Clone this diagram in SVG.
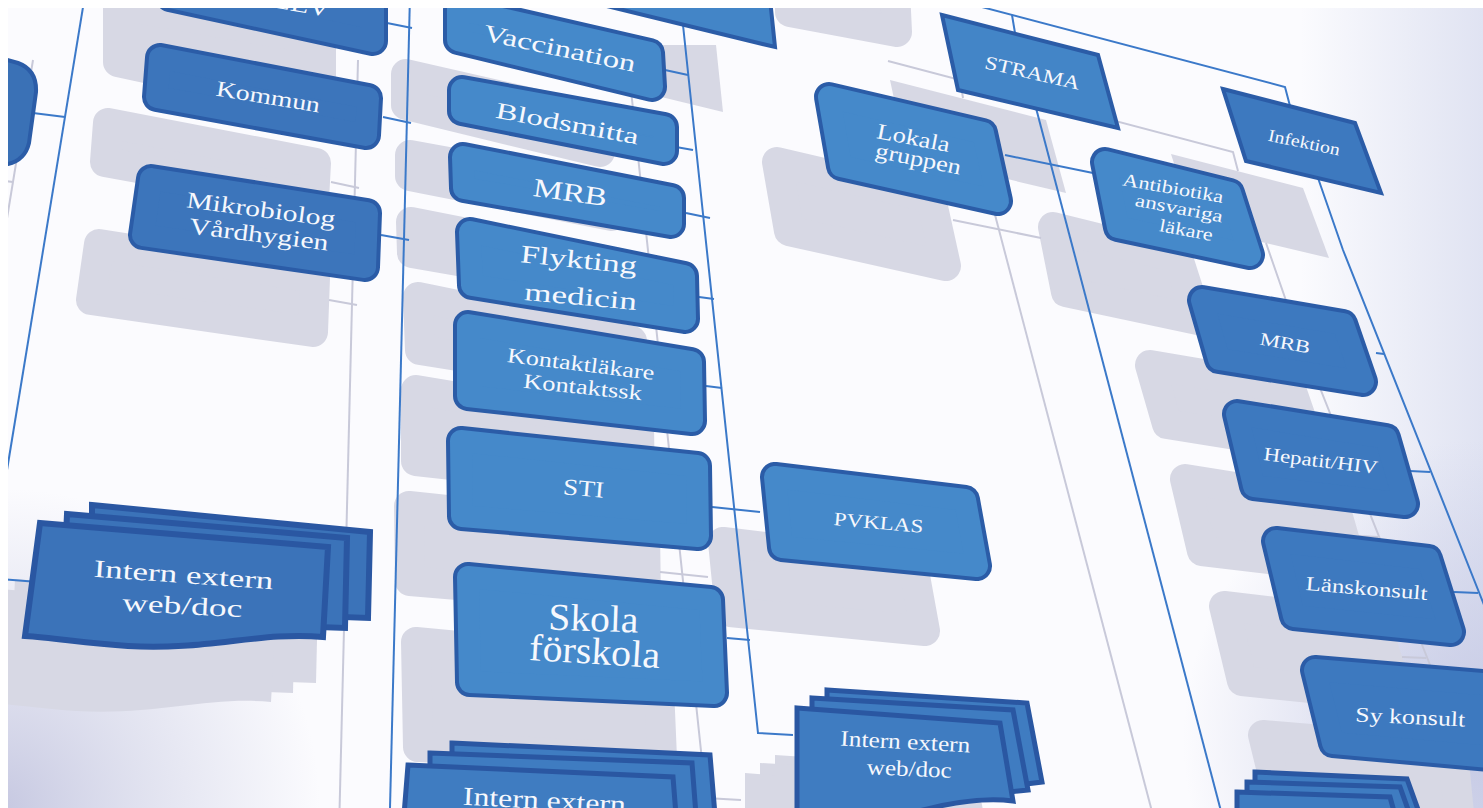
<svg xmlns="http://www.w3.org/2000/svg" xmlns:xlink="http://www.w3.org/1999/xlink" width="1483" height="808" viewBox="0 0 1483 808">
<defs>
<style>
.t{font-family:"Liberation Serif","Times New Roman",serif;fill:#f6f8fd;text-anchor:middle}
.sh{fill:#d7d8e4;stroke:#d7d8e4;stroke-width:30;stroke-linejoin:round}
.shp{fill:#d7d8e4;stroke:none}
.bd{fill:#2b5ca7;stroke:#2b5ca7;stroke-width:30;stroke-linejoin:round}
.fm{fill:#4589ca;stroke:#4589ca;stroke-width:22;stroke-linejoin:round}
.fl{fill:#3c75bb;stroke:#3c75bb;stroke-width:22;stroke-linejoin:round}
.fr{fill:#3d79bf;stroke:#3d79bf;stroke-width:22;stroke-linejoin:round}
.sq{stroke:#2b5ca7;stroke-width:4;stroke-linejoin:miter}
.pl{fill:#3b73b9;stroke:#2a57a2;stroke-width:6;stroke-linejoin:miter}
.pm{fill:#3f7cc1;stroke:#2a57a2;stroke-width:5;stroke-linejoin:miter}
.conn{fill:none;stroke:#3b79c9;stroke-width:2}
.wsh{fill:none;stroke:#c8c9d9;stroke-width:2}
</style>
<radialGradient id="gBL" cx="0" cy="808" r="320" gradientUnits="userSpaceOnUse"><stop offset="0" stop-color="#c6c8e1"/><stop offset="0.5" stop-color="#d3d5e8" stop-opacity="0.6"/><stop offset="1" stop-color="#d3d5e8" stop-opacity="0"/></radialGradient>
<radialGradient id="gR" cx="1483" cy="740" r="300" gradientUnits="userSpaceOnUse"><stop offset="0" stop-color="#c6cae5"/><stop offset="1" stop-color="#c6cae5" stop-opacity="0"/></radialGradient>
<linearGradient id="gRt" x1="1300" y1="0" x2="1483" y2="0" gradientUnits="userSpaceOnUse"><stop offset="0" stop-color="#dfe3f2" stop-opacity="0"/><stop offset="1" stop-color="#e0e3f2"/></linearGradient>

<polygon id="p-lev" points="170,-60 373,-25 373,41 170,-3"/>
<polygon id="p-kommun" points="160,58 368,98 366,135 157,97"/>
<polygon id="p-mikro" points="151,179 367,213 365,267 143,235"/>
<polygon id="p-vacc" points="458,9 650,53 652,87 458,40"/>
<polygon id="p-blod" points="462,90 664,127 664,151 462,111"/>
<polygon id="p-mrb1" points="463,157 671,198 671,224 464,188"/>
<polygon id="p-flyk" points="470,232 684,276 685,319 472,285"/>
<polygon id="p-kont" points="468,325 691,362 692,421 468,396"/>
<polygon id="p-sti" points="461,441 697,466 698,536 462,516"/>
<polygon id="p-skola" points="468,577 710,600 714,693 470,682"/>
<polygon id="p-lokala" points="829,97 983,133 998,201 841,166"/>
<polygon id="p-anti" points="1105,162 1230,193 1250,255 1118,227"/>
<polygon id="p-pvk" points="775,477 965,500 977,566 782,547"/>
<polygon id="p-mrb2" points="1202,300 1343,324 1363,382 1219,359"/>
<polygon id="p-hep" points="1237,414 1386,438 1405,504 1254,486"/>
<polygon id="p-lans" points="1276,541 1428,559 1451,632 1294,616"/>
<polygon id="p-sy" points="1315,670 1505,686 1512,759 1333,743"/>
<polygon id="p-strama" points="942,15 1098,55 1118,128 958,90"/>
<polygon id="p-inf" points="1223,89 1355,123 1381,193 1246,161"/>
<polygon id="p-top" points="590,-20 768,-20 775,47 590,2"/>
<polygon id="d1a" points="92,505 370,532 368,618 92,608"/>
<polygon id="d1b" points="67,514 347,538 345,628 62,618"/>
<path id="d1c" d="M40,523 L328,547 L323,637 C262,631 205,651 128,646 C85,643 55,638 25,636 Z"/>
<polygon id="d3a" points="827,690 1027,703 1042,782 1010,786 827,786"/>
<polygon id="d3b" points="812,698 1013,710 1028,790 1000,793 812,793"/>
<path id="d3c" d="M797,708 L1000,723 L1013,801 C980,797 945,803 905,815 L797,815 Z"/>
</defs>

<!-- background -->
<rect x="0" y="0" width="1483" height="808" fill="#fbfbfe"/>
<rect x="0" y="0" width="1483" height="808" fill="url(#gBL)"/>
<rect x="0" y="0" width="1483" height="808" fill="url(#gRt)"/>
<rect x="0" y="0" width="1483" height="808" fill="url(#gR)"/>

<!-- shadows -->
<g id="shadows" transform="translate(-52,65)">
<polygon class="sh" points="842,-95 947,-75 949,-33 842,-53"/>
<use href="#p-lev" class="sh"/>
<use href="#p-kommun" class="sh"/>
<use href="#p-mikro" class="sh"/>
<use href="#p-vacc" class="sh"/>
<use href="#p-blod" class="sh"/>
<use href="#p-mrb1" class="sh"/>
<use href="#p-flyk" class="sh"/>
<use href="#p-kont" class="sh"/>
<use href="#p-sti" class="sh"/>
<use href="#p-skola" class="sh"/>
<use href="#p-lokala" class="sh"/>
<use href="#p-anti" class="sh"/>
<use href="#p-pvk" class="sh"/>
<use href="#p-mrb2" class="sh"/>
<use href="#p-hep" class="sh"/>
<use href="#p-lans" class="sh"/>
<use href="#p-sy" class="sh"/>
<use href="#p-strama" class="shp"/>
<use href="#p-inf" class="shp"/>
<use href="#p-top" class="shp"/>
<use href="#d1a" class="shp"/>
<use href="#d1b" class="shp"/>
<use href="#d1c" class="shp"/>
<use href="#d3a" class="shp"/>
<use href="#d3b" class="shp"/>
<use href="#d3c" class="shp"/>
</g>

<!-- connector shadows -->
<use href="#wires" class="wsh" transform="translate(-52,65)"/>

<!-- connectors -->
<g id="connectors" class="conn">
<g id="wires">
<path d="M85,-5 L7,470"/>
<path d="M33,113 L65,117"/>
<path d="M0,579 L38,582"/>
<path d="M410,-5 L390,808"/>
<path d="M387,23 L412,28"/>
<path d="M383,117 L411,123"/>
<path d="M381,235 L409,240"/>
<path d="M683,25 L758,733 L793,735"/>
<path d="M665,70 L688,75"/>
<path d="M676,147 L693,150"/>
<path d="M686,213 L710,218"/>
<path d="M699,297 L714,299"/>
<path d="M706,386 L722,388"/>
<path d="M712,507 L760,512"/>
<path d="M727,638 L750,640"/>
<path d="M940,-4 L1285,87 L1290,106"/>
<path d="M1012,15 L1015,33"/>
<path d="M1036,108 L1222,815"/>
<path d="M1005,155 L1093,173"/>
<path d="M1318,178 L1343,250 L1490,620"/>
<path d="M1376,353 L1384,354"/>
<path d="M1410,471 L1430,472"/>
<path d="M1454,592 L1478,593"/>
</g>
</g>

<!-- nodes: left column -->
<g id="node-edge">
<path d="M0,58 L18,63 Q37,70 36,92 L29,143 Q25,160 8,164 L0,164 Z" fill="#3a71b6" stroke="#2b5ca7" stroke-width="4"/>
</g>
<g id="node-lev">
<use href="#p-lev" class="bd"/><use href="#p-lev" class="fl"/>
<text class="t" x="300" y="12" font-size="22" transform="rotate(10 300 12)" textLength="58" lengthAdjust="spacingAndGlyphs">LEV</text>
</g>
<g id="node-kommun">
<use href="#p-kommun" class="bd"/><use href="#p-kommun" class="fl"/>
<text class="t" x="267" y="104" font-size="22" transform="rotate(9.2 267 104)" textLength="105" lengthAdjust="spacingAndGlyphs">Kommun</text>
</g>
<g id="node-mikro">
<use href="#p-mikro" class="bd"/><use href="#p-mikro" class="fl"/>
<text class="t" x="260" y="217" font-size="23" transform="rotate(7.5 260 217)" textLength="150" lengthAdjust="spacingAndGlyphs">Mikrobiolog</text>
<text class="t" x="258" y="242" font-size="23" transform="rotate(7 258 242)" textLength="140" lengthAdjust="spacingAndGlyphs">Vårdhygien</text>
</g>
<g id="node-doc-left">
<use href="#d1a" class="pl"/><use href="#d1b" class="pl"/><use href="#d1c" class="pl"/>
<text class="t" x="183" y="583" font-size="25" transform="rotate(4 183 583)" textLength="180" lengthAdjust="spacingAndGlyphs">Intern extern</text>
<text class="t" x="182" y="614" font-size="25" transform="rotate(3 182 614)" textLength="120" lengthAdjust="spacingAndGlyphs">web/doc</text>
</g>

<!-- nodes: middle column -->
<g id="node-top">
<use href="#p-top" class="sq" fill="#4385c7"/>
</g>
<g id="node-vacc">
<use href="#p-vacc" class="bd"/><use href="#p-vacc" class="fm"/>
<text class="t" x="558" y="56" font-size="24" transform="rotate(11.8 558 56)" textLength="155" lengthAdjust="spacingAndGlyphs">Vaccination</text>
</g>
<g id="node-blod">
<use href="#p-blod" class="bd"/><use href="#p-blod" class="fm"/>
<text class="t" x="566" y="131" font-size="23" transform="rotate(10.7 566 131)" textLength="145" lengthAdjust="spacingAndGlyphs">Blodsmitta</text>
</g>
<g id="node-mrb1">
<use href="#p-mrb1" class="bd"/><use href="#p-mrb1" class="fm"/>
<text class="t" x="569" y="201" font-size="26" transform="rotate(8 569 201)" textLength="74" lengthAdjust="spacingAndGlyphs">MRB</text>
</g>
<g id="node-flyk">
<use href="#p-flyk" class="bd"/><use href="#p-flyk" class="fm"/>
<text class="t" x="578" y="268" font-size="25" transform="rotate(6 578 268)" textLength="117" lengthAdjust="spacingAndGlyphs">Flykting</text>
<text class="t" x="580" y="305" font-size="25" transform="rotate(5 580 305)" textLength="113" lengthAdjust="spacingAndGlyphs">medicin</text>
</g>
<g id="node-kont">
<use href="#p-kont" class="bd"/><use href="#p-kont" class="fm"/>
<text class="t" x="580" y="371" font-size="21" transform="rotate(7 580 371)" textLength="148" lengthAdjust="spacingAndGlyphs">Kontaktläkare</text>
<text class="t" x="582" y="394" font-size="21" transform="rotate(6 582 394)" textLength="119" lengthAdjust="spacingAndGlyphs">Kontaktssk</text>
</g>
<g id="node-sti">
<use href="#p-sti" class="bd"/><use href="#p-sti" class="fm"/>
<text class="t" x="583" y="496" font-size="23" transform="rotate(5 583 496)" textLength="41" lengthAdjust="spacingAndGlyphs">STI</text>
</g>
<g id="node-skola">
<use href="#p-skola" class="bd"/><use href="#p-skola" class="fm"/>
<text class="t" x="593" y="631" font-size="38" transform="rotate(2 593 631)" textLength="90" lengthAdjust="spacingAndGlyphs">Skola</text>
<text class="t" x="594" y="664" font-size="38" transform="rotate(3.5 594 664)" textLength="131" lengthAdjust="spacingAndGlyphs">förskola</text>
</g>
<g id="node-doc-bottom">
<polygon class="pm" points="452,743 710,755 715,815 452,815"/>
<polygon class="pm" points="430,753 692,763 696,815 430,815"/>
<polygon class="pm" points="408,765 673,777 676,815 404,815"/>
<text class="t" x="544" y="809" font-size="26" transform="rotate(3 544 809)" textLength="163" lengthAdjust="spacingAndGlyphs">Intern extern</text>
</g>
<g id="node-pvklas">
<use href="#p-pvk" class="bd"/><use href="#p-pvk" class="fm"/>
<text class="t" x="878" y="529" font-size="19" transform="rotate(5 878 529)" textLength="90" lengthAdjust="spacingAndGlyphs">PVKLAS</text>
</g>
<g id="node-doc-mid">
<use href="#d3a" class="pm"/><use href="#d3b" class="pm"/><use href="#d3c" class="pm"/>
<text class="t" x="905" y="749" font-size="22" transform="rotate(3 905 749)" textLength="130" lengthAdjust="spacingAndGlyphs">Intern extern</text>
<text class="t" x="909" y="776" font-size="22" transform="rotate(2.5 909 776)" textLength="85" lengthAdjust="spacingAndGlyphs">web/doc</text>
</g>

<!-- nodes: right part -->
<g id="node-strama">
<use href="#p-strama" class="sq" fill="#4385c7"/>
<text class="t" x="1031" y="79" font-size="19" transform="rotate(12.8 1031 79)" textLength="97" lengthAdjust="spacingAndGlyphs">STRAMA</text>
</g>
<g id="node-lokala">
<use href="#p-lokala" class="bd"/><use href="#p-lokala" class="fm"/>
<text class="t" x="912" y="145" font-size="22" transform="rotate(11 912 145)" textLength="74" lengthAdjust="spacingAndGlyphs">Lokala</text>
<text class="t" x="917" y="166" font-size="22" transform="rotate(11.5 917 166)" textLength="87" lengthAdjust="spacingAndGlyphs">gruppen</text>
</g>
<g id="node-infektion">
<use href="#p-inf" class="sq" fill="#3d79bf"/>
<text class="t" x="1303" y="148" font-size="17" transform="rotate(11.8 1303 148)" textLength="73" lengthAdjust="spacingAndGlyphs">Infektion</text>
</g>
<g id="node-anti">
<use href="#p-anti" class="bd"/><use href="#p-anti" class="fm"/>
<text class="t" x="1172" y="194" font-size="18" transform="rotate(10 1172 194)" textLength="102" lengthAdjust="spacingAndGlyphs">Antibiotika</text>
<text class="t" x="1178" y="214" font-size="18" transform="rotate(10.8 1178 214)" textLength="89" lengthAdjust="spacingAndGlyphs">ansvariga</text>
<text class="t" x="1185" y="236" font-size="18" transform="rotate(10.5 1185 236)" textLength="54" lengthAdjust="spacingAndGlyphs">läkare</text>
</g>
<g id="node-mrb2">
<use href="#p-mrb2" class="bd"/><use href="#p-mrb2" class="fr"/>
<text class="t" x="1284" y="349" font-size="18" transform="rotate(10 1284 349)" textLength="51" lengthAdjust="spacingAndGlyphs">MRB</text>
</g>
<g id="node-hep">
<use href="#p-hep" class="bd"/><use href="#p-hep" class="fr"/>
<text class="t" x="1320" y="467" font-size="19" transform="rotate(7 1320 467)" textLength="115" lengthAdjust="spacingAndGlyphs">Hepatit/HIV</text>
</g>
<g id="node-lans">
<use href="#p-lans" class="bd"/><use href="#p-lans" class="fr"/>
<text class="t" x="1366" y="595" font-size="20" transform="rotate(4.7 1366 595)" textLength="122" lengthAdjust="spacingAndGlyphs">Länskonsult</text>
</g>
<g id="node-sy">
<use href="#p-sy" class="bd"/><use href="#p-sy" class="fr"/>
<text class="t" x="1410" y="724" font-size="21" transform="rotate(2.6 1410 724)" textLength="110" lengthAdjust="spacingAndGlyphs">Sy konsult</text>
</g>
<g id="node-doc-right">
<polygon class="pm" points="1255,772 1407,779 1420,815 1255,815"/>
<polygon class="pm" points="1247,782 1400,787 1410,815 1247,815"/>
<polygon class="pm" points="1237,792 1390,797 1395,815 1237,815"/>
</g>

<!-- frame -->
<rect x="0" y="0" width="1483" height="8" fill="#ffffff"/>
<rect x="0" y="0" width="8" height="808" fill="#ffffff"/>
</svg>
